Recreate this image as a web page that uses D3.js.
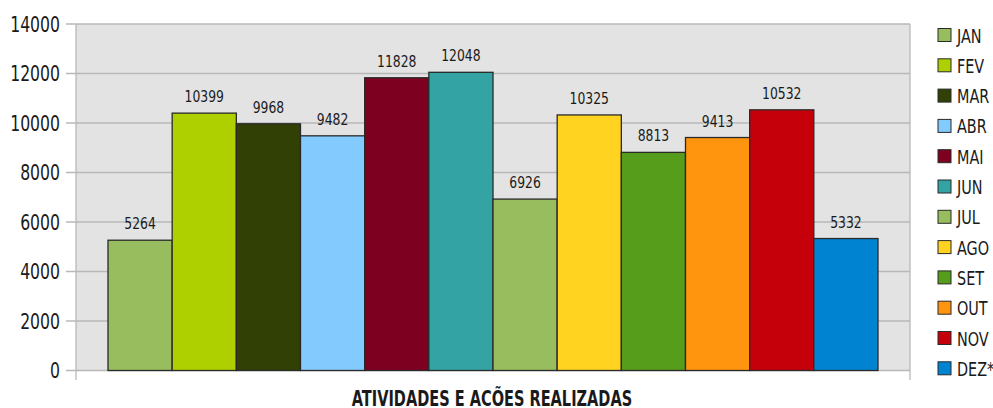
<!DOCTYPE html>
<html><head><meta charset="utf-8">
<script src="https://cdn.jsdelivr.net/npm/d3@7"></script>
<style>
html,body{margin:0;padding:0;background:#fff;}
svg{display:block;}
text{font-family:"DejaVu Sans Condensed","Liberation Sans Narrow",sans-serif;fill:#1a1a1a;}
</style></head>
<body><svg id="c" width="993" height="408"></svg>
<script>
const months = ["JAN","FEV","MAR","ABR","MAI","JUN","JUL","AGO","SET","OUT","NOV","DEZ*"];
const values = [5264,10399,9968,9482,11828,12048,6926,10325,8813,9413,10532,5332];
const colors = ["#97bd5f","#afd000","#314004","#83caff","#7e0021","#33a3a3","#97bd5f","#ffd320","#579d1c","#ff950e","#c5000b","#0084d1"];
const yTicks = [0,2000,4000,6000,8000,10000,12000,14000];
const title = "ATIVIDADES E ACÕES REALIZADAS";

const svg = d3.select("#c");
const L = 76, R = 910, T = 24, B = 370.5;
const y = d3.scaleLinear().domain([0,14000]).range([B,T]);
const x = d3.scaleBand().domain(months).range([108,878]).padding(0);

// plot background
svg.append("rect").attr("x",L).attr("y",T).attr("width",R-L).attr("height",B-T).attr("fill","#e3e3e3");

// gridlines
svg.append("g").selectAll("line").data(yTicks).join("line")
  .attr("x1",66).attr("x2",R).attr("y1",d=>y(d)).attr("y2",d=>y(d))
  .attr("stroke","#b8b8b8").attr("stroke-width",1.3);
// vertical axis lines
svg.append("line").attr("x1",L).attr("x2",L).attr("y1",T).attr("y2",380).attr("stroke","#b8b8b8").attr("stroke-width",1.3);
svg.append("line").attr("x1",R).attr("x2",R).attr("y1",T).attr("y2",380).attr("stroke","#b8b8b8").attr("stroke-width",1.3);

// y labels
svg.append("g").selectAll("text").data(yTicks).join("text")
  .attr("transform",d=>`translate(60,${y(d)+7.5}) scale(0.83,1)`).attr("text-anchor","end")
  .attr("font-size",21).text(d=>d);

// bars
svg.append("g").selectAll("rect").data(months).join("rect")
  .attr("x",d=>x(d)).attr("width",x.bandwidth())
  .attr("y",(d,i)=>y(values[i])).attr("height",(d,i)=>B-y(values[i]))
  .attr("fill",(d,i)=>colors[i]).attr("stroke","#2a2a2a").attr("stroke-width",1.3);

// value labels
svg.append("g").selectAll("text").data(months).join("text")
  .attr("transform",(d,i)=>`translate(${x(d)+x.bandwidth()/2},${y(values[i])-11}) scale(0.86,1)`)
  .attr("text-anchor","middle").attr("font-size",16).text((d,i)=>values[i]);

// legend
const lg = svg.append("g").selectAll("g").data(months).join("g")
  .attr("transform",(d,i)=>`translate(938,${35+i*30.3})`);
lg.append("rect").attr("x",0).attr("y",-6.5).attr("width",13).attr("height",13)
  .attr("fill",(d,i)=>colors[i]).attr("stroke","#2a2a2a").attr("stroke-width",1);
lg.append("text").attr("transform","translate(19,7.5) scale(0.8,1)").attr("font-size",20).text(d=>d);

// title
svg.append("text").attr("transform","translate(492,406) scale(0.77,1)").attr("text-anchor","middle")
  .attr("font-size",21).attr("font-weight","bold").text(title);
</script></body></html>
